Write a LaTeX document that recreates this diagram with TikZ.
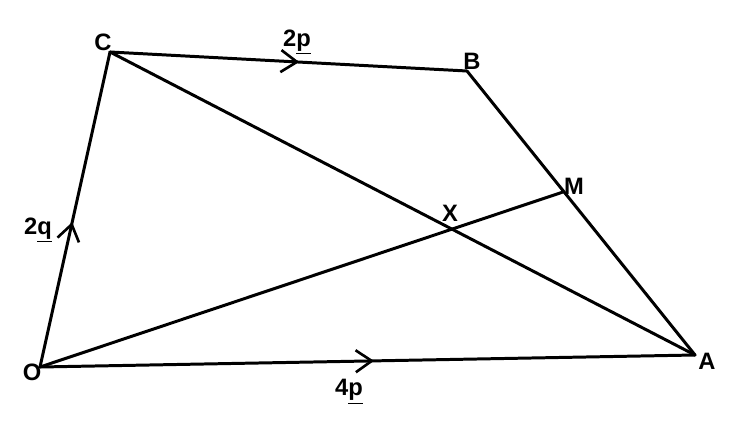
\documentclass[tikz,border=0pt]{standalone}
\usepackage{fontspec}
\setmainfont{Liberation Sans}
\usetikzlibrary{arrows.meta,decorations.markings}

\tikzset{
    edge/.style={line width=1.7pt,line cap=round,line join=round},
    midarrow/.style={postaction={decorate},decoration={markings,
        mark=at position #1 with {\arrow[line width=1.5pt]{Straight Barb[length=3.2mm,width=4.4mm]}}}},
    lbl/.style={inner sep=0pt,font=\fontsize{13.5}{15}\selectfont\bfseries}
}

\begin{document}
\begin{tikzpicture}[x=0.02cm,y=-0.02cm]
    \useasboundingbox (0,0) rectangle (742,432);
    % vertices of the quadrilateral
    \coordinate (O) at (40,367);
    \coordinate (A) at (695,355);
    \coordinate (B) at (467,71);
    \coordinate (C) at (110,52);
    \coordinate (M) at (563,192);
    \coordinate (X) at (intersection of C--A and O--M);
    % sides
    \draw[edge,midarrow=0.46] (O) -- (C);
    \draw[edge,midarrow=0.53] (C) -- (B);
    \draw[edge] (B) -- (A);
    \draw[edge,midarrow=0.51] (O) -- (A);
    % diagonals
    \draw[edge] (C) -- (A);
    \draw[edge] (O) -- (M);
    % labels
    \node[lbl] (lO) at (32,372) {O};
    \node[lbl] (lA) at (707,361) {A};
    \node[lbl] (lB) at (472,61) {B};
    \node[lbl] (lC) at (103,42) {C};
    \node[lbl] (lM) at (574,186) {M};
    \node[lbl] (lX) at (450,213) {X};
    \node[lbl] (lp) at (297,42) {2\underline{p}};
    \node[lbl] (lq) at (38,230) {2\underline{q}};
    \node[lbl] (lpp) at (349,392) {4\underline{p}};
\end{tikzpicture}
\end{document}
